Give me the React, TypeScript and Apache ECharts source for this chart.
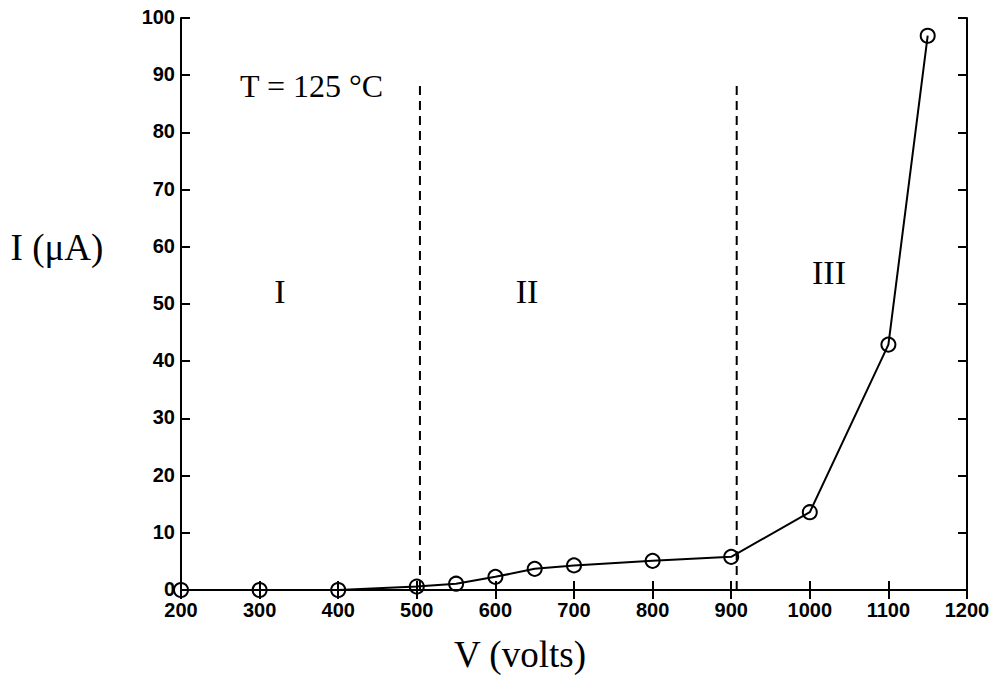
import React, { useEffect, useRef } from "react";
import * as echarts from "echarts";

const voltage = [200, 300, 400, 500, 550, 600, 650, 700, 800, 900, 1000, 1100, 1150];
const current = [0, 0, 0, 0.6, 1.1, 2.3, 3.7, 4.3, 5.1, 5.8, 13.6, 42.9, 96.9];
const boundaryLow = [[504, 0], [504, 88.5]];
const boundaryHigh = [[907, 0], [907, 88.5]];
const xTicks = { min: 200, max: 1200, interval: 100 };
const yTicks = { min: 0, max: 100, interval: 10 };
const regionLabels = ["I", "II", "III"];
const tempLabel = "T = 125 °C";
const xTitle = "V (volts)";
const yTitle = "I (μA)";

export default function App() {
  const ref = useRef<HTMLDivElement>(null);
  useEffect(() => {
    if (!ref.current) return;
    const chart = echarts.init(ref.current, null, { renderer: "svg" });
    const tickFont = {
      color: "#000",
      fontFamily: "Liberation Sans, Arial, sans-serif",
      fontWeight: "bold" as const,
      fontSize: 20,
      formatter: (v: number) => String(v),
    };
    const serif = "Liberation Serif, Times New Roman, serif";
    const axisLine = { show: true, lineStyle: { color: "#000", width: 2 } };
    const axisTick = { show: true, inside: true, length: 9, lineStyle: { color: "#000", width: 2 } };
    const dashed = {
      type: "line" as const,
      symbol: "none",
      lineStyle: { color: "#000", width: 2, type: [9, 6] as any },
      silent: true,
    };
    chart.setOption({
      animation: false,
      backgroundColor: "#fff",
      grid: { left: 181, right: 26, top: 18, bottom: 85, containLabel: false },
      xAxis: [
        {
          type: "value",
          position: "bottom",
          ...xTicks,
          axisLine,
          axisTick,
          splitLine: { show: false },
          axisLabel: { ...tickFont, margin: 10 },
        },
        {
          type: "value",
          position: "top",
          ...xTicks,
          axisLine,
          axisTick,
          splitLine: { show: false },
          axisLabel: { show: false },
        },
      ],
      yAxis: [
        {
          type: "value",
          position: "left",
          ...yTicks,
          axisLine,
          axisTick,
          splitLine: { show: false },
          axisLabel: { ...tickFont, margin: 6, verticalAlign: "bottom", lineHeight: 18, padding: [0, 0, -8, 0] },
        },
        {
          type: "value",
          position: "right",
          ...yTicks,
          axisLine,
          axisTick,
          splitLine: { show: false },
          axisLabel: { show: false },
        },
      ],
      series: [
        { ...dashed, data: boundaryLow },
        { ...dashed, data: boundaryHigh },
        {
          type: "line",
          data: voltage.map((v, i) => [v, current[i]]),
          symbol: "circle",
          symbolSize: 14,
          showAllSymbol: true,
          itemStyle: { color: "transparent", borderColor: "#000", borderWidth: 2 },
          lineStyle: { color: "#000", width: 2 },
          z: 5,
        },
      ],
      graphic: [
        {
          type: "text",
          left: 240,
          top: 70,
          style: { text: tempLabel, font: `32px ${serif}`, fill: "#000" },
        },
        {
          type: "text",
          x: 280,
          y: 291,
          style: { text: regionLabels[0], font: `34px ${serif}`, fill: "#000", textAlign: "center", textVerticalAlign: "middle" },
        },
        {
          type: "text",
          x: 527,
          y: 291,
          style: { text: regionLabels[1], font: `34px ${serif}`, fill: "#000", textAlign: "center", textVerticalAlign: "middle" },
        },
        {
          type: "text",
          x: 829,
          y: 272,
          style: { text: regionLabels[2], font: `34px ${serif}`, fill: "#000", textAlign: "center", textVerticalAlign: "middle" },
        },
        {
          type: "text",
          x: 57,
          y: 247,
          style: { text: yTitle, font: `37px ${serif}`, fill: "#000", textAlign: "center", textVerticalAlign: "middle" },
        },
        {
          type: "text",
          x: 520,
          y: 654,
          style: { text: xTitle, font: `37px ${serif}`, fill: "#000", textAlign: "center", textVerticalAlign: "middle" },
        },
      ],
    });
    return () => chart.dispose();
  }, []);
  return <div ref={ref} style={{ position: "fixed", left: 0, top: 0, width: 993, height: 675 }} />;
}
